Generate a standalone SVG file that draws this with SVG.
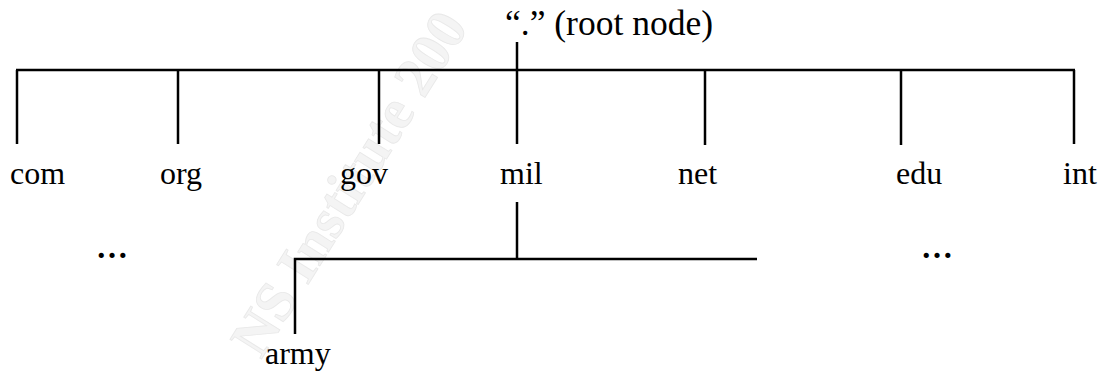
<svg xmlns="http://www.w3.org/2000/svg" width="1099" height="372" viewBox="0 0 1099 372">
  <style>
    .lbl { font-family: "Liberation Serif", "Times New Roman", serif; font-size: 32px; fill: #000; }
    .ln { stroke: #000; stroke-width: 2.5; fill: none; stroke-linecap: butt; }
    .dots { font-weight: bold; }
    .wm { font-family: "Liberation Serif", "Times New Roman", serif; font-size: 57px; font-weight: bold; fill: #f4f4f4; stroke: #e8e8e8; stroke-width: 0.8; }
  </style>
  <rect width="1099" height="372" fill="#fff"/>
  <text class="wm" transform="translate(261,360) rotate(-58)">NS Institute 200</text>
  <g id="connectors">
    <line class="ln" x1="517" y1="42" x2="517" y2="144"/>
    <line class="ln" x1="16" y1="70" x2="1075" y2="70"/>
    <line class="ln" x1="17" y1="70" x2="17" y2="144"/>
    <line class="ln" x1="178" y1="70" x2="178" y2="144"/>
    <line class="ln" x1="379" y1="70" x2="379" y2="144"/>
    <line class="ln" x1="705" y1="70" x2="705" y2="145"/>
    <line class="ln" x1="901" y1="70" x2="901" y2="145"/>
    <line class="ln" x1="1074" y1="70" x2="1074" y2="144"/>
    <line class="ln" x1="517" y1="202" x2="517" y2="259"/>
    <path class="ln" d="M757 259 H295 V334"/>
  </g>
  <g id="root"><text class="lbl" x="505" y="35" style="font-size:35.5px">“.” (root node)</text></g>
  <g id="com"><text class="lbl" x="10" y="184">com</text></g>
  <g id="org"><text class="lbl" x="160" y="184">org</text></g>
  <g id="gov"><text class="lbl" x="340" y="184">gov</text></g>
  <g id="mil"><text class="lbl" x="500" y="184">mil</text></g>
  <g id="net"><text class="lbl" x="678" y="184">net</text></g>
  <g id="edu"><text class="lbl" x="896" y="184">edu</text></g>
  <g id="int"><text class="lbl" x="1063" y="184">int</text></g>
  <g id="more-left"><text class="lbl dots" x="96" y="258">…</text></g>
  <g id="more-right"><text class="lbl dots" x="921" y="258">…</text></g>
  <g id="army"><text class="lbl" x="265" y="364">army</text></g>
</svg>
